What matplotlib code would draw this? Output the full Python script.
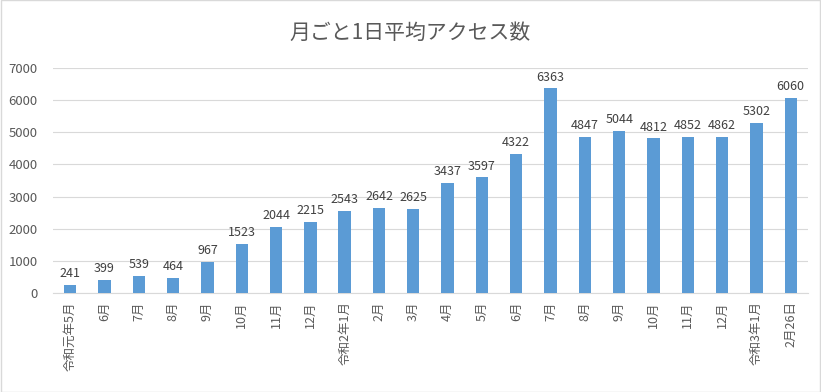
import matplotlib.pyplot as plt
import numpy as np

plt.rcParams['font.family'] = ['Noto Sans CJK JP', 'DejaVu Sans']

labels = ['令和元年5月', '6月', '7月', '8月', '9月', '10月', '11月', '12月',
          '令和2年1月', '2月', '3月', '4月', '5月', '6月', '7月', '8月', '9月',
          '10月', '11月', '12月', '令和3年1月', '2月26日']
values = [241, 399, 539, 464, 967, 1523, 2044, 2215, 2543, 2642, 2625, 3437,
          3597, 4322, 6363, 4847, 5044, 4812, 4852, 4862, 5302, 6060]

text_color = '#595959'

fig = plt.figure(figsize=(8.21, 3.92), dpi=100)
ax = fig.add_axes([0.0646, 0.2526, 0.9194, 0.5739])

x = np.arange(len(values))
bars = ax.bar(x, values, width=0.36, color='#5b9bd5', zorder=3)
for xi, v in zip(x, values):
    ax.text(xi, v + 150, str(v), ha='center', va='bottom', fontsize=9, color='#404040')

ax.set_xlim(-0.5, len(values) - 0.5)
ax.set_ylim(0, 7000)
ax.set_yticks(range(0, 7001, 1000))
ax.yaxis.grid(True, color='#d9d9d9', linewidth=0.8, zorder=0)
ax.set_xticks(x)
ax.set_xticklabels(labels, rotation=90, fontsize=9, color=text_color)
ax.tick_params(axis='y', labelsize=9.5, labelcolor=text_color, length=0, pad=11)
ax.tick_params(axis='x', length=0, pad=6)
for s in ['top', 'right', 'left']:
    ax.spines[s].set_visible(False)
ax.spines['bottom'].set_color('#d9d9d9')

fig.text(0.5, 0.915, '月ごと1日平均アクセス数', ha='center', va='center',
         fontsize=15, color=text_color)

fig.patches.append(plt.Rectangle((0.001, 0.001), 0.998, 0.998, transform=fig.transFigure,
                                 fill=False, edgecolor='#d9d9d9', linewidth=1))

fig.savefig('out.png', dpi=100)
